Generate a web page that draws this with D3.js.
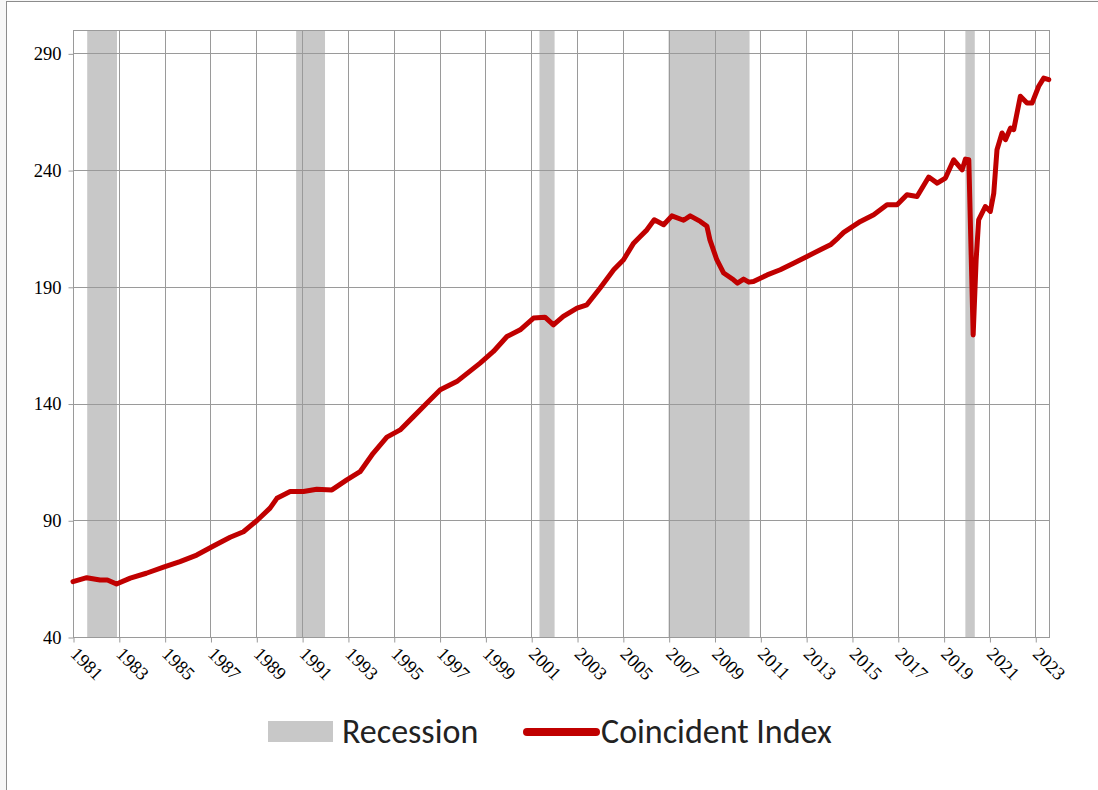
<!DOCTYPE html>
<html>
<head>
<meta charset="utf-8">
<title>Coincident Index</title>
<script src="https://cdn.jsdelivr.net/npm/d3@7"></script>
<style>
  body { margin: 0; background: #f7f7f7; }
  svg { display: block; }
  .tick text { font-family: "Liberation Serif", "Times New Roman", "DejaVu Serif", serif; font-size: 18.5px; fill: #000; }
</style>
</head>
<body>
<svg width="1098" height="790"></svg>
<script>
// coincident index (decimal year, index value)
var years = [1981.0, 1981.6, 1982.18, 1982.5, 1982.9, 1983.5, 1984.2, 1984.95, 1985.67, 1986.4,
  1987.13, 1987.86, 1988.44, 1989.02, 1989.6, 1989.9, 1990.48, 1991.06, 1991.64, 1992.3,
  1992.95, 1993.53, 1994.1, 1994.7, 1995.28, 1995.86, 1996.45, 1997.03, 1997.75, 1998.77,
  1999.35, 1999.94, 2000.52, 2001.1, 2001.6, 2001.97, 2002.4, 2003.0, 2003.43, 2004.0,
  2004.6, 2005.03, 2005.47, 2005.76, 2006.05, 2006.37, 2006.78, 2007.14, 2007.65, 2007.94,
  2008.38, 2008.67, 2008.8, 2009.1, 2009.4, 2009.83, 2010.0, 2010.27, 2010.5, 2010.7, 2011.3, 2011.87, 2012.45,
  2013.04, 2013.62, 2014.06, 2014.4, 2014.64, 2015.37, 2015.95, 2016.53, 2016.97, 2017.4,
  2017.84, 2018.35, 2018.72, 2019.08, 2019.44, 2019.81, 2019.95, 2020.1, 2020.29, 2020.42,
  2020.53, 2020.82, 2021.04, 2021.19, 2021.33, 2021.55, 2021.7, 2021.92, 2022.06, 2022.35,
  2022.64, 2022.86, 2023.15, 2023.37, 2023.59];
var values = [63.7, 65.4, 64.4, 64.4, 62.7, 65.2, 67.3, 69.9, 72.3, 75.1,
  79.0, 82.7, 85.1, 89.8, 95.2, 99.4, 102.3, 102.3, 103.3, 103.0,
  107.3, 110.8, 118.7, 125.6, 128.7, 134.4, 140.2, 145.9, 149.4, 157.3,
  162.3, 168.7, 171.6, 176.6, 177.0, 173.7, 177.3, 180.9, 182.3, 189.4,
  197.3, 201.6, 208.7, 211.6, 214.4, 218.7, 216.6, 220.4, 218.5, 220.4,
  218.0, 215.9, 210.1, 201.6, 195.9, 193.0, 191.6, 193.3, 192.0, 192.3, 195.1, 197.3, 200.1,
  203.0, 205.9, 208.0, 211.0, 213.3, 218.0, 220.9, 225.1, 225.1, 229.4,
  228.7, 237.0, 234.4, 236.6, 244.4, 240.1, 244.7, 244.4, 169.4, 201.6,
  218.7, 224.4, 222.3, 230.1, 248.7, 255.9, 253.0, 258.0, 257.3, 271.6,
  268.7, 268.7, 275.9, 279.4, 278.7];

// recession shading as drawn (start, end)
var recStart = [1981.62, 1990.74, 2001.36, 2006.99, 2019.95];
var recEnd   = [1982.92, 1992.0, 2002.02, 2010.53, 2020.36];

var yTicks = [40, 90, 140, 190, 240, 290];
var xTicks = d3.range(1981, 2024, 2);

var svg = d3.select("svg");
var plot = {left: 73, right: 1049, top: 30, bottom: 637};

// outer frame
svg.append("rect")
  .attr("x", 6.5).attr("y", 1.5)
  .attr("width", 1200).attr("height", 900)
  .attr("fill", "#fff").attr("stroke", "#8c8c8c");

var x = d3.scaleLinear().domain([1981, 2023.6]).range([plot.left, plot.right]);
var y = d3.scaleLinear().domain([40, 300]).range([plot.bottom, plot.top]);

var data = years.map(function(d, i) { return {t: d, v: values[i]}; });
var rec = recStart.map(function(d, i) { return {s: d, e: recEnd[i]}; });

// recession bands
svg.append("g").selectAll("rect")
  .data(rec).enter().append("rect")
  .attr("x", function(d) { return x(d.s); })
  .attr("width", function(d) { return x(d.e) - x(d.s); })
  .attr("y", plot.top)
  .attr("height", plot.bottom - plot.top)
  .attr("fill", "#c8c8c8");

// grid
var grid = svg.append("g").attr("stroke", "#9a9a9a").attr("stroke-width", 1);
grid.selectAll(".h").data(yTicks).enter().append("line")
  .attr("x1", plot.left).attr("x2", plot.right)
  .attr("y1", function(d) { return Math.round(y(d)) + 0.5; })
  .attr("y2", function(d) { return Math.round(y(d)) + 0.5; });
grid.selectAll(".v").data(xTicks).enter().append("line")
  .attr("y1", plot.top).attr("y2", plot.bottom)
  .attr("x1", function(d) { return Math.round(x(d)) + 0.5; })
  .attr("x2", function(d) { return Math.round(x(d)) + 0.5; });
svg.append("rect")
  .attr("x", plot.left + 0.5).attr("y", plot.top + 0.5)
  .attr("width", plot.right - plot.left).attr("height", plot.bottom - plot.top)
  .attr("fill", "none").attr("stroke", "#9a9a9a");

// axes
var yAxis = svg.append("g")
  .attr("transform", "translate(" + (plot.left + 0.5) + ",0.5)")
  .call(d3.axisLeft(y).tickValues(yTicks).tickSize(5).tickPadding(7));
var xAxis = svg.append("g")
  .attr("transform", "translate(0.5," + (plot.bottom + 0.5) + ")")
  .call(d3.axisBottom(x).tickValues(xTicks).tickSize(5).tickFormat(d3.format("d")));
svg.selectAll(".domain").remove();
svg.selectAll(".tick line").attr("stroke", "#9a9a9a");
xAxis.selectAll(".tick text")
  .attr("text-anchor", "start")
  .attr("y", 0).attr("dy", "0.35em")
  .attr("transform", "translate(0,13) rotate(45)");

// the index line
var line = d3.line()
  .x(function(d) { return x(d.t); })
  .y(function(d) { return y(d.v); });
svg.append("path")
  .datum(data)
  .attr("d", line)
  .attr("fill", "none")
  .attr("stroke", "#c00000")
  .attr("stroke-width", 5)
  .attr("stroke-linejoin", "round")
  .attr("stroke-linecap", "round");

// legend
var lg = svg.append("g").attr("font-family", "Carlito, Lato, sans-serif").attr("font-size", 34).attr("fill", "#222");
lg.append("rect").attr("x", 268).attr("y", 721).attr("width", 65).attr("height", 21).attr("fill", "#c8c8c8");
lg.append("text").attr("x", 342).attr("y", 743).text("Recession");
lg.append("line").attr("x1", 527).attr("x2", 596).attr("y1", 732).attr("y2", 732)
  .attr("stroke", "#c00000").attr("stroke-width", 8).attr("stroke-linecap", "round");
lg.append("text").attr("x", 601).attr("y", 743).text("Coincident Index");
</script>
</body>
</html>
